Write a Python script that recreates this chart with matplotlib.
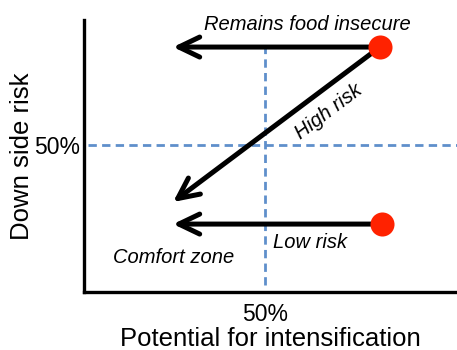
import matplotlib
matplotlib.use('Agg')
import matplotlib.pyplot as plt

plt.rcParams['font.family'] = ['Liberation Sans', 'DejaVu Sans']

# positions of the two starting points (red dots)
start_x = [81.7, 81.7, 82.3]
start_y = [83.3, 83.3, 23.1]
# where each arrow ends
end_x = [24.6, 24.6, 24.6]
end_y = [83.3, 30.6, 23.1]

dot_x = [81.7, 82.3]
dot_y = [83.3, 23.1]

labels = ['Remains food insecure', 'High risk', 'Low risk', 'Comfort zone']
label_x = [61.6, 67.6, 62.4, 24.7]
label_y = [91.1, 61.2, 17.0, 11.9]
label_rot = [0, 37, 0, 0]

mid = 50


def main():
    fig = plt.figure(figsize=(4.57, 3.5), dpi=100)
    ax = fig.add_axes([84 / 457, 58 / 350, 1 - 84 / 457, 272 / 350])
    ax.set_xlim(0, 103)
    ax.set_ylim(0, 92.5)

    for s in ['top', 'right']:
        ax.spines[s].set_visible(False)
    for s in ['left', 'bottom']:
        ax.spines[s].set_linewidth(2.4)
        ax.spines[s].set_color('black')

    dash_col = '#5f8fcb'
    ax.plot([mid, mid], [2.4, 85], color=dash_col, lw=2.0, ls=(0, (3, 1.9)), zorder=1)
    ax.plot([1, 103], [mid, mid], color=dash_col, lw=2.0, ls=(0, (3, 1.9)), zorder=1,
            clip_on=False)

    for sx, sy, ex, ey in zip(start_x, start_y, end_x, end_y):
        ax.annotate('', xy=(ex, ey), xytext=(sx, sy),
                    arrowprops=dict(arrowstyle='->,head_length=0.75,head_width=0.36',
                                    lw=3.6, color='black', shrinkA=0, shrinkB=0,
                                    mutation_scale=20),
                    zorder=3)

    ax.scatter(dot_x, dot_y, s=300, color='#ff2200', zorder=4, linewidths=0)

    for t, x, y, r in zip(labels, label_x, label_y, label_rot):
        ax.text(x, y, t, fontsize=14.5, fontstyle='italic', ha='center', va='center',
                rotation=r, rotation_mode='anchor')

    ax.set_xticks([mid])
    ax.set_xticklabels(['50%'])
    ax.set_yticks([mid])
    ax.set_yticklabels(['50%'])
    ax.tick_params(length=0, labelsize=16.5)
    ax.tick_params(axis='x', pad=8)
    ax.tick_params(axis='y', pad=3)
    ax.set_xlabel('Potential for intensification', fontsize=18.5, labelpad=1)
    ax.set_ylabel('Down side risk', fontsize=18.5, labelpad=0)

    plt.savefig('out.png', dpi=100)


if __name__ == '__main__':
    main()
